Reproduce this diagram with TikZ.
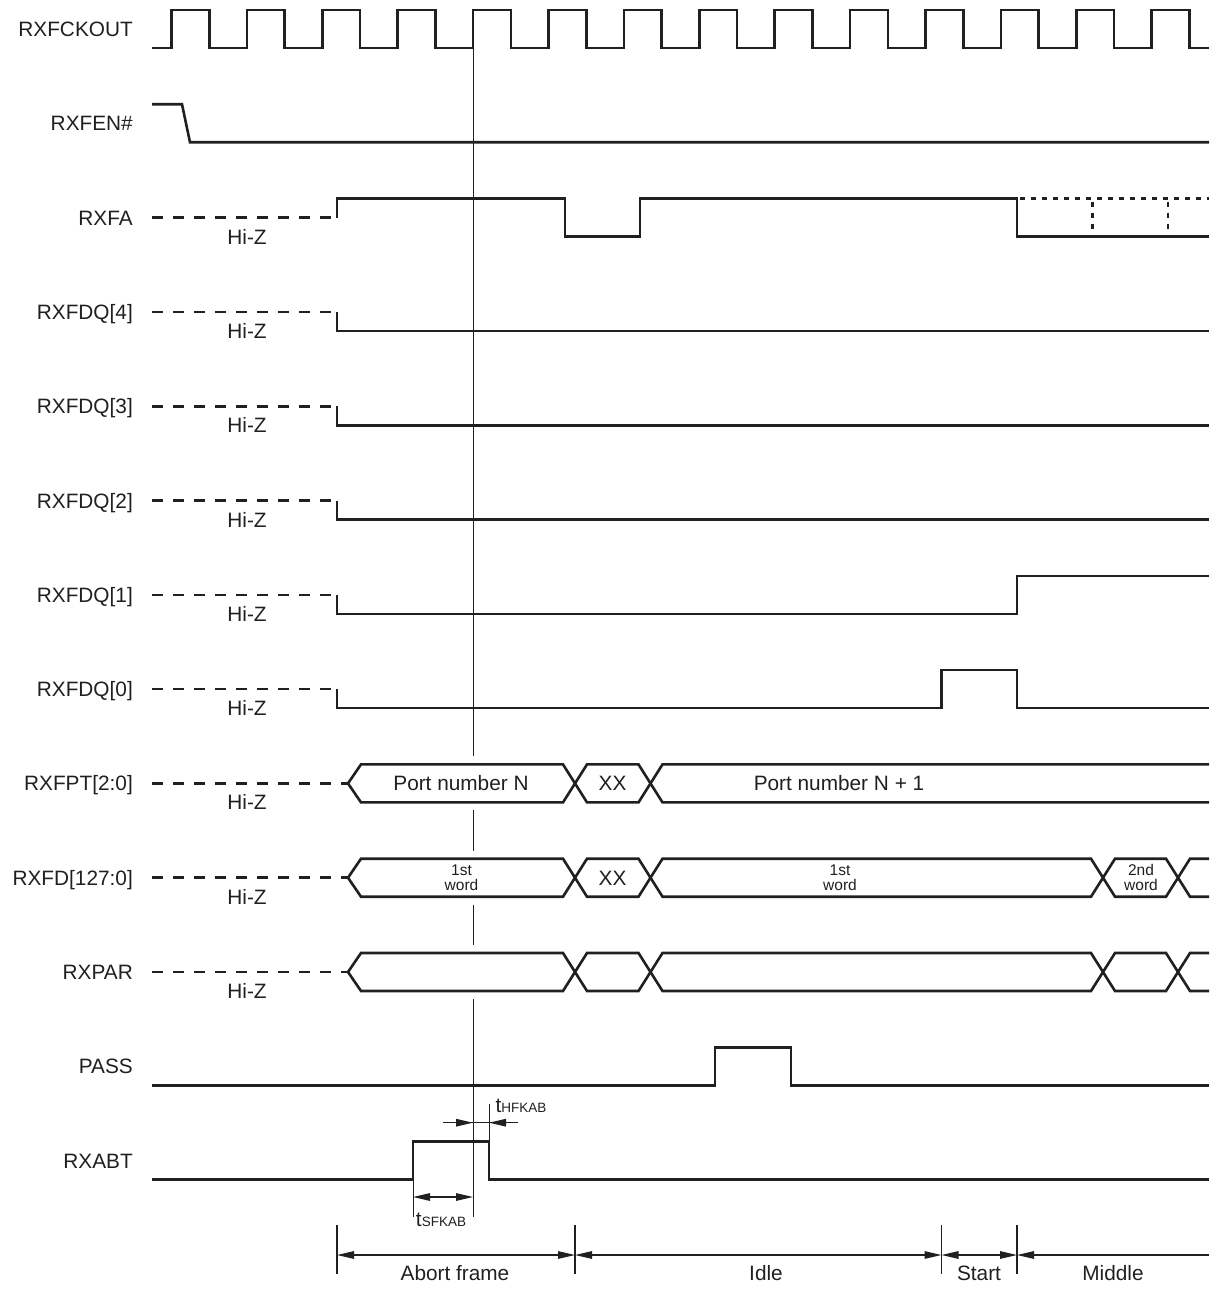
\documentclass[tikz,border=0pt]{standalone}
\usepackage{fontspec}
\setmainfont{Liberation Sans}
\usetikzlibrary{arrows.meta}
\definecolor{ink}{RGB}{35,31,32}
\def\rowA{29}
\def\rowB{123.3}
\def\rowC{217.6}
\def\rowD{311.9}
\def\rowE{406.2}
\def\rowF{500.5}
\def\rowG{594.8}
\def\rowH{689.1}
\def\rowI{783.4}
\def\rowJ{877.7}
\def\rowK{972}
\def\rowL{1066.3}
\def\rowM{1160.6}
\begin{document}
\begin{tikzpicture}[x=1pt,y=-1pt,
  sig/.style={draw=ink,line width=2.6pt,line join=miter},
  hiz/.style={draw=ink,line width=2.6pt,dash pattern=on 11pt off 10pt},
  dotsig/.style={draw=ink,line width=2.2pt,dash pattern=on 5pt off 6pt},
  thinline/.style={draw=ink,line width=1pt},
  dimline/.style={draw=ink,line width=1.3pt},
  tip/.tip={Stealth[length=17pt,width=7.5pt,inset=0pt]},
  lbl/.style={text=ink,font=\fontsize{20.8}{25}\selectfont,inner sep=0pt},
  smalllbl/.style={text=ink,font=\fontsize{15.5}{15}\selectfont,align=center,inner sep=0pt}]
\useasboundingbox (0,0) rectangle (1217,1289);

% signal names
\node[lbl,anchor=base east] (nA) at (133,{\rowA+7.5}) {RXFCKOUT};
\node[lbl,anchor=base east] (nB) at (133,{\rowB+7.5}) {RXFEN\#};
\node[lbl,anchor=base east] (nC) at (133,{\rowC+7.5}) {RXFA};
\node[lbl,anchor=base east] (nD) at (133,{\rowD+7.5}) {RXFDQ[4]};
\node[lbl,anchor=base east] (nE) at (133,{\rowE+7.5}) {RXFDQ[3]};
\node[lbl,anchor=base east] (nF) at (133,{\rowF+7.5}) {RXFDQ[2]};
\node[lbl,anchor=base east] (nG) at (133,{\rowG+7.5}) {RXFDQ[1]};
\node[lbl,anchor=base east] (nH) at (133,{\rowH+7.5}) {RXFDQ[0]};
\node[lbl,anchor=base east] (nI) at (133,{\rowI+7.5}) {RXFPT[2:0]};
\node[lbl,anchor=base east] (nJ) at (133,{\rowJ+7.5}) {RXFD[127:0]};
\node[lbl,anchor=base east] (nK) at (133,{\rowK+7.5}) {RXPAR};
\node[lbl,anchor=base east] (nL) at (133,{\rowL+7.5}) {PASS};
\node[lbl,anchor=base east] (nM) at (133,{\rowM+7.5}) {RXABT};

% Hi-Z dashed parts and labels
\foreach \y [count=\i] in {\rowC,\rowD,\rowE,\rowF,\rowG,\rowH} {
  \draw[hiz] (152,\y) -- (332,\y);
  \node[lbl,anchor=base] (hz\i) at (247,{\y+26.5}) {Hi-Z};
}
\foreach \y [count=\i from 7] in {\rowI,\rowJ,\rowK} {
  \draw[hiz] (152,\y) -- (348,\y);
  \node[lbl,anchor=base] (hz\i) at (247,{\y+26.5}) {Hi-Z};
}

% clock
\draw[sig] (152,48) \foreach \k in {0,...,13} {
  -- ({171.5+75.4*\k},48) -- ({171.5+75.4*\k},10)
  -- ({209.2+75.4*\k},10) -- ({209.2+75.4*\k},48) } -- (1209,48);

% RXFEN#
\draw[sig] (152,{\rowB-19}) -- (182,{\rowB-19}) -- (190,{\rowB+19}) -- (1209,{\rowB+19});

% RXFA
\draw[sig] (337,\rowC) -- (337,{\rowC-19}) -- (565,{\rowC-19}) -- (565,{\rowC+19})
  -- (640,{\rowC+19}) -- (640,{\rowC-19}) -- (1017,{\rowC-19}) -- (1017,{\rowC+19}) -- (1209,{\rowC+19});
\draw[dotsig] (1020,{\rowC-19}) -- (1209,{\rowC-19});
\draw[dotsig] (1092.5,{\rowC-16}) -- (1092.5,{\rowC+19});
\draw[dotsig] (1168,{\rowC-16}) -- (1168,{\rowC+19});

% RXFDQ[4..2]
\foreach \y in {\rowD,\rowE,\rowF} {
  \draw[sig] (337,\y) -- (337,{\y+19}) -- (1209,{\y+19});
}
% RXFDQ[1]
\draw[sig] (337,\rowG) -- (337,{\rowG+19}) -- (1017,{\rowG+19}) -- (1017,{\rowG-19}) -- (1209,{\rowG-19});
% RXFDQ[0]
\draw[sig] (337,\rowH) -- (337,{\rowH+19}) -- (941.5,{\rowH+19}) -- (941.5,{\rowH-19})
  -- (1017,{\rowH-19}) -- (1017,{\rowH+19}) -- (1209,{\rowH+19});

% RXFPT bus
\draw[sig] (348,\rowI) -- (361,{\rowI-19}) -- (563,{\rowI-19}) -- (587,{\rowI+19}) -- (638.5,{\rowI+19})
  -- (662.5,{\rowI-19}) -- (1209,{\rowI-19});
\draw[sig] (348,\rowI) -- (361,{\rowI+19}) -- (563,{\rowI+19}) -- (587,{\rowI-19}) -- (638.5,{\rowI-19})
  -- (662.5,{\rowI+19}) -- (1209,{\rowI+19});
\node[lbl,anchor=base] (pn) at (461,{\rowI+7.5}) {Port number N};
\node[lbl,anchor=base] (px) at (612.5,{\rowI+7.5}) {XX};
\node[lbl,anchor=base] (pn1) at (839,{\rowI+7.5}) {Port number N + 1};

% RXFD and RXPAR buses
\foreach \y in {\rowJ,\rowK} {
  \draw[sig] (348,\y) -- (361,{\y-19}) -- (563,{\y-19}) -- (587,{\y+19}) -- (638.5,{\y+19})
    -- (662.5,{\y-19}) -- (1091,{\y-19}) -- (1115,{\y+19}) -- (1166,{\y+19}) -- (1190,{\y-19}) -- (1209,{\y-19});
  \draw[sig] (348,\y) -- (361,{\y+19}) -- (563,{\y+19}) -- (587,{\y-19}) -- (638.5,{\y-19})
    -- (662.5,{\y+19}) -- (1091,{\y+19}) -- (1115,{\y-19}) -- (1166,{\y-19}) -- (1190,{\y+19}) -- (1209,{\y+19});
}
\node[smalllbl] (w1) at (461.5,\rowJ) {1st\\word};
\node[lbl,anchor=base] (dx) at (612.5,{\rowJ+7.5}) {XX};
\node[smalllbl] (w2) at (840,\rowJ) {1st\\word};
\node[smalllbl] (w3) at (1141,\rowJ) {2nd\\word};

% PASS
\draw[sig] (152,{\rowL+19}) -- (715,{\rowL+19}) -- (715,{\rowL-19}) -- (791,{\rowL-19}) -- (791,{\rowL+19}) -- (1209,{\rowL+19});
% RXABT
\draw[sig] (152,{\rowM+19}) -- (413,{\rowM+19}) -- (413,{\rowM-19}) -- (489,{\rowM-19}) -- (489,{\rowM+19}) -- (1209,{\rowM+19});

% reference vertical line
\draw[thinline] (473,48) -- (473,{\rowI-27}) (473,{\rowI+27}) -- (473,{\rowJ-27})
  (473,{\rowJ+27}) -- (473,{\rowK-27}) (473,{\rowK+27}) -- (473,1217);

% tHFKAB
\coordinate (hA) at (443,1122.7);
\coordinate (hB) at (473,1122.7);
\coordinate (hC) at (489,1122.7);
\coordinate (hD) at (518,1122.7);
\draw[thinline] (489,1104) -- (489,{\rowM-19});
\draw[dimline] (hA) -- (hD);
\draw[dimline,-tip] (hA) -- (hB);
\draw[dimline,-tip] (hD) -- (hC);
\node[lbl,anchor=base] (th) at (521,1112) {t{\fontsize{13.5}{14}\selectfont HFKAB}};

% tSFKAB
\coordinate (sA) at (413,1197);
\coordinate (sB) at (473,1197);
\draw[thinline] (413,{\rowM+19}) -- (413,1217);
\draw[dimline,tip-tip] (sA) -- (sB);
\node[lbl,anchor=base] (ts) at (441,1226) {t{\fontsize{13.5}{14}\selectfont SFKAB}};

% phase markers
\foreach \x/\n in {337/p0,575/p1,941.5/p2,1017/p3} {
  \draw[thinline,line width=1.2pt] (\x,1225) -- (\x,1274);
  \coordinate (\n) at (\x,1255);
}
\coordinate (p4) at (1209,1255);
\draw[dimline,tip-tip] (p0) -- (p1);
\draw[dimline,tip-tip] (p1) -- (p2);
\draw[dimline,tip-tip] (p2) -- (p3);
\draw[dimline,tip-] (p3) -- (p4);
\node[lbl,anchor=base] (ph0) at (455,1280) {Abort frame};
\node[lbl,anchor=base] (ph1) at (766,1280) {Idle};
\node[lbl,anchor=base] (ph2) at (979,1280) {Start};
\node[lbl,anchor=base] (ph3) at (1113,1280) {Middle};
\end{tikzpicture}
\end{document}
